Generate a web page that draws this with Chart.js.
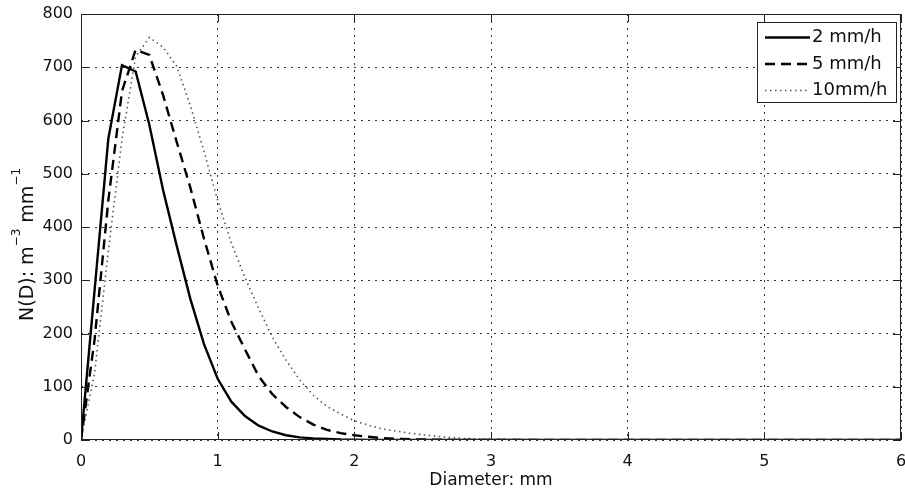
<!DOCTYPE html>
<html>
<head>
<meta charset="utf-8">
<title>Drop size distribution</title>
<script src="https://cdn.jsdelivr.net/npm/chart.js@4.4.1/dist/chart.umd.min.js"></script>
<style>
    html, body { margin: 0; padding: 0; background: #fff; }
</style>
</head>
<body>
<canvas id="dsdChart" width="905" height="491"></canvas>
<script>
// Drop diameters (mm) and N(D) for three rain rates
const diameters = [0, 0.1, 0.2, 0.3, 0.4, 0.5, 0.6, 0.7, 0.8, 0.9,
                   1.0, 1.1, 1.2, 1.3, 1.4, 1.5, 1.6, 1.7, 1.8, 1.9,
                   2.0, 2.1, 2.2, 2.3, 2.4, 2.5, 2.6, 2.7, 2.8, 2.9,
                   3.0, 3.5, 4.0, 5.0, 6.0];
const rate2mm = [0, 283, 566, 704, 692, 592, 470, 365, 265, 180,
                 115, 72, 45, 27, 16, 9, 5, 3, 2, 1,
                 0.6, 0.3, 0.2, 0.1, 0, 0, 0, 0, 0, 0,
                 0, 0, 0, 0, 0];
const rate5mm = [0, 190, 450, 655, 733, 723, 648, 560, 474, 378,
                 290, 222, 170, 120, 86, 62, 43, 29, 19, 13,
                 9, 6, 3.5, 2.3, 1.5, 1, 0.5, 0.3, 0.2, 0.1,
                 0, 0, 0, 0, 0];
const rate10mm = [0, 127, 355, 565, 720, 756, 738, 702, 628, 542,
                  450, 370, 305, 247, 193, 150, 113, 84, 63, 49,
                  36, 28, 21, 17, 13, 10, 7, 5, 3, 2,
                  1.5, 0.3, 0, 0, 0];
const seriesLabels = ['2 mm/h', '5 mm/h', '10mm/h'];
const xTicks = [0, 1, 2, 3, 4, 5, 6];
const yTicks = [0, 100, 200, 300, 400, 500, 600, 700, 800];

const plotFont = "'DejaVu Sans', sans-serif";

function toPoints(values) {
    return diameters.map((d, i) => ({ x: d, y: values[i] }));
}

// Box, inward ticks, legend and y label drawn on top of the lines
const axesDecor = {
    id: 'axesDecor',
    afterDatasetsDraw(chart) {
        const { ctx, chartArea: area, scales } = chart;
        ctx.save();
        ctx.strokeStyle = '#222';
        ctx.lineWidth = 1;
        ctx.setLineDash([]);
        ctx.strokeRect(area.left + 0.5, area.top + 0.5,
            area.right - area.left - 1, area.bottom - area.top - 1);

        // tick marks point into the plot on all four sides
        const tickLen = 8;
        ctx.beginPath();
        xTicks.forEach(v => {
            const x = Math.round(scales.x.getPixelForValue(v)) + 0.5;
            ctx.moveTo(x, area.bottom);
            ctx.lineTo(x, area.bottom - tickLen);
            ctx.moveTo(x, area.top);
            ctx.lineTo(x, area.top + tickLen);
        });
        yTicks.forEach(v => {
            const y = Math.round(scales.y.getPixelForValue(v)) + 0.5;
            ctx.moveTo(area.left, y);
            ctx.lineTo(area.left + tickLen, y);
            ctx.moveTo(area.right, y);
            ctx.lineTo(area.right - tickLen, y);
        });
        ctx.stroke();

        // Legend box in the upper right corner
        const boxW = 139, boxH = 80;
        const bx = area.right - 5 - boxW;
        const by = area.top + 8;
        ctx.fillStyle = '#fff';
        ctx.fillRect(bx, by, boxW, boxH);
        ctx.strokeStyle = '#222';
        ctx.lineWidth = 1;
        ctx.strokeRect(bx + 0.5, by + 0.5, boxW, boxH);

        chart.data.datasets.forEach((ds, i) => {
            const y = by + 15.5 + i * 26.5;
            ctx.strokeStyle = ds.borderColor;
            ctx.lineWidth = ds.borderWidth;
            ctx.setLineDash(ds.borderDash || []);
            ctx.beginPath();
            ctx.moveTo(bx + 8, y);
            ctx.lineTo(bx + 53, y);
            ctx.stroke();
            ctx.setLineDash([]);
            ctx.fillStyle = '#111';
            ctx.font = `18px ${plotFont}`;
            ctx.textBaseline = 'middle';
            ctx.textAlign = 'left';
            ctx.fillText(ds.label, bx + 55, y);
        });

        // Y label with superscripts, written bottom to top
        const parts = [
            { text: 'N(D): m', size: 19, raise: 0 },
            { text: '\u22123', size: 12, raise: 13 },
            { text: ' mm', size: 19, raise: 0 },
            { text: '\u22121', size: 12, raise: 13 }
        ];
        ctx.translate(33, 321);
        ctx.rotate(-Math.PI / 2);
        ctx.fillStyle = '#111';
        ctx.textBaseline = 'alphabetic';
        let u = 0;
        parts.forEach(p => {
            ctx.font = `${p.size}px ${plotFont}`;
            ctx.fillText(p.text, u, -p.raise);
            u += ctx.measureText(p.text).width;
        });
        ctx.restore();
    }
};

// Initialize the size distribution chart
function initializeDsdChart() {
    const ctx = document.getElementById('dsdChart').getContext('2d');

    new Chart(ctx, {
        type: 'line',
        data: {
            datasets: [
                {
                    label: seriesLabels[0],
                    data: toPoints(rate2mm),
                    borderColor: '#000',
                    borderWidth: 2.4,
                    borderDash: []
                },
                {
                    label: seriesLabels[1],
                    data: toPoints(rate5mm),
                    borderColor: '#000',
                    borderWidth: 2.4,
                    borderDash: [10, 6]
                },
                {
                    label: seriesLabels[2],
                    data: toPoints(rate10mm),
                    borderColor: '#555',
                    borderWidth: 1.6,
                    borderDash: [1.5, 3.5]
                }
            ]
        },
        options: {
            responsive: false,
            maintainAspectRatio: false,
            animation: false,
            devicePixelRatio: 1,
            layout: { padding: { left: 0, right: 4, top: 14, bottom: 0 } },
            elements: {
                point: { radius: 0 },
                line: { tension: 0, fill: false }
            },
            scales: {
                x: {
                    type: 'linear',
                    min: 0,
                    max: 6,
                    afterBuildTicks: s => { s.ticks = xTicks.map(v => ({ value: v })); },
                    afterFit: s => {
                        s.height = 51;
                        s.paddingLeft = 0;
                        s.paddingRight = 0;
                    },
                    grid: { color: '#333', lineWidth: 1, drawTicks: false },
                    border: { display: false, dash: [2, 5] },
                    ticks: {
                        color: '#111',
                        padding: 12,
                        maxRotation: 0,
                        font: { family: plotFont, size: 16 }
                    },
                    title: {
                        display: true,
                        text: 'Diameter: mm',
                        color: '#111',
                        padding: { top: 0, bottom: 0 },
                        font: { family: plotFont, size: 17 }
                    }
                },
                y: {
                    type: 'linear',
                    min: 0,
                    max: 800,
                    afterBuildTicks: s => { s.ticks = yTicks.map(v => ({ value: v })); },
                    afterFit: s => {
                        s.width = 81;
                        s.paddingTop = 0;
                        s.paddingBottom = 0;
                    },
                    grid: { color: '#333', lineWidth: 1, drawTicks: false },
                    border: { display: false, dash: [2, 5] },
                    ticks: {
                        color: '#111',
                        padding: 8,
                        font: { family: plotFont, size: 16 }
                    }
                }
            },
            plugins: {
                legend: { display: false },
                tooltip: { enabled: false }
            }
        },
        plugins: [axesDecor]
    });
}

document.addEventListener('DOMContentLoaded', initializeDsdChart);
</script>
</body>
</html>
